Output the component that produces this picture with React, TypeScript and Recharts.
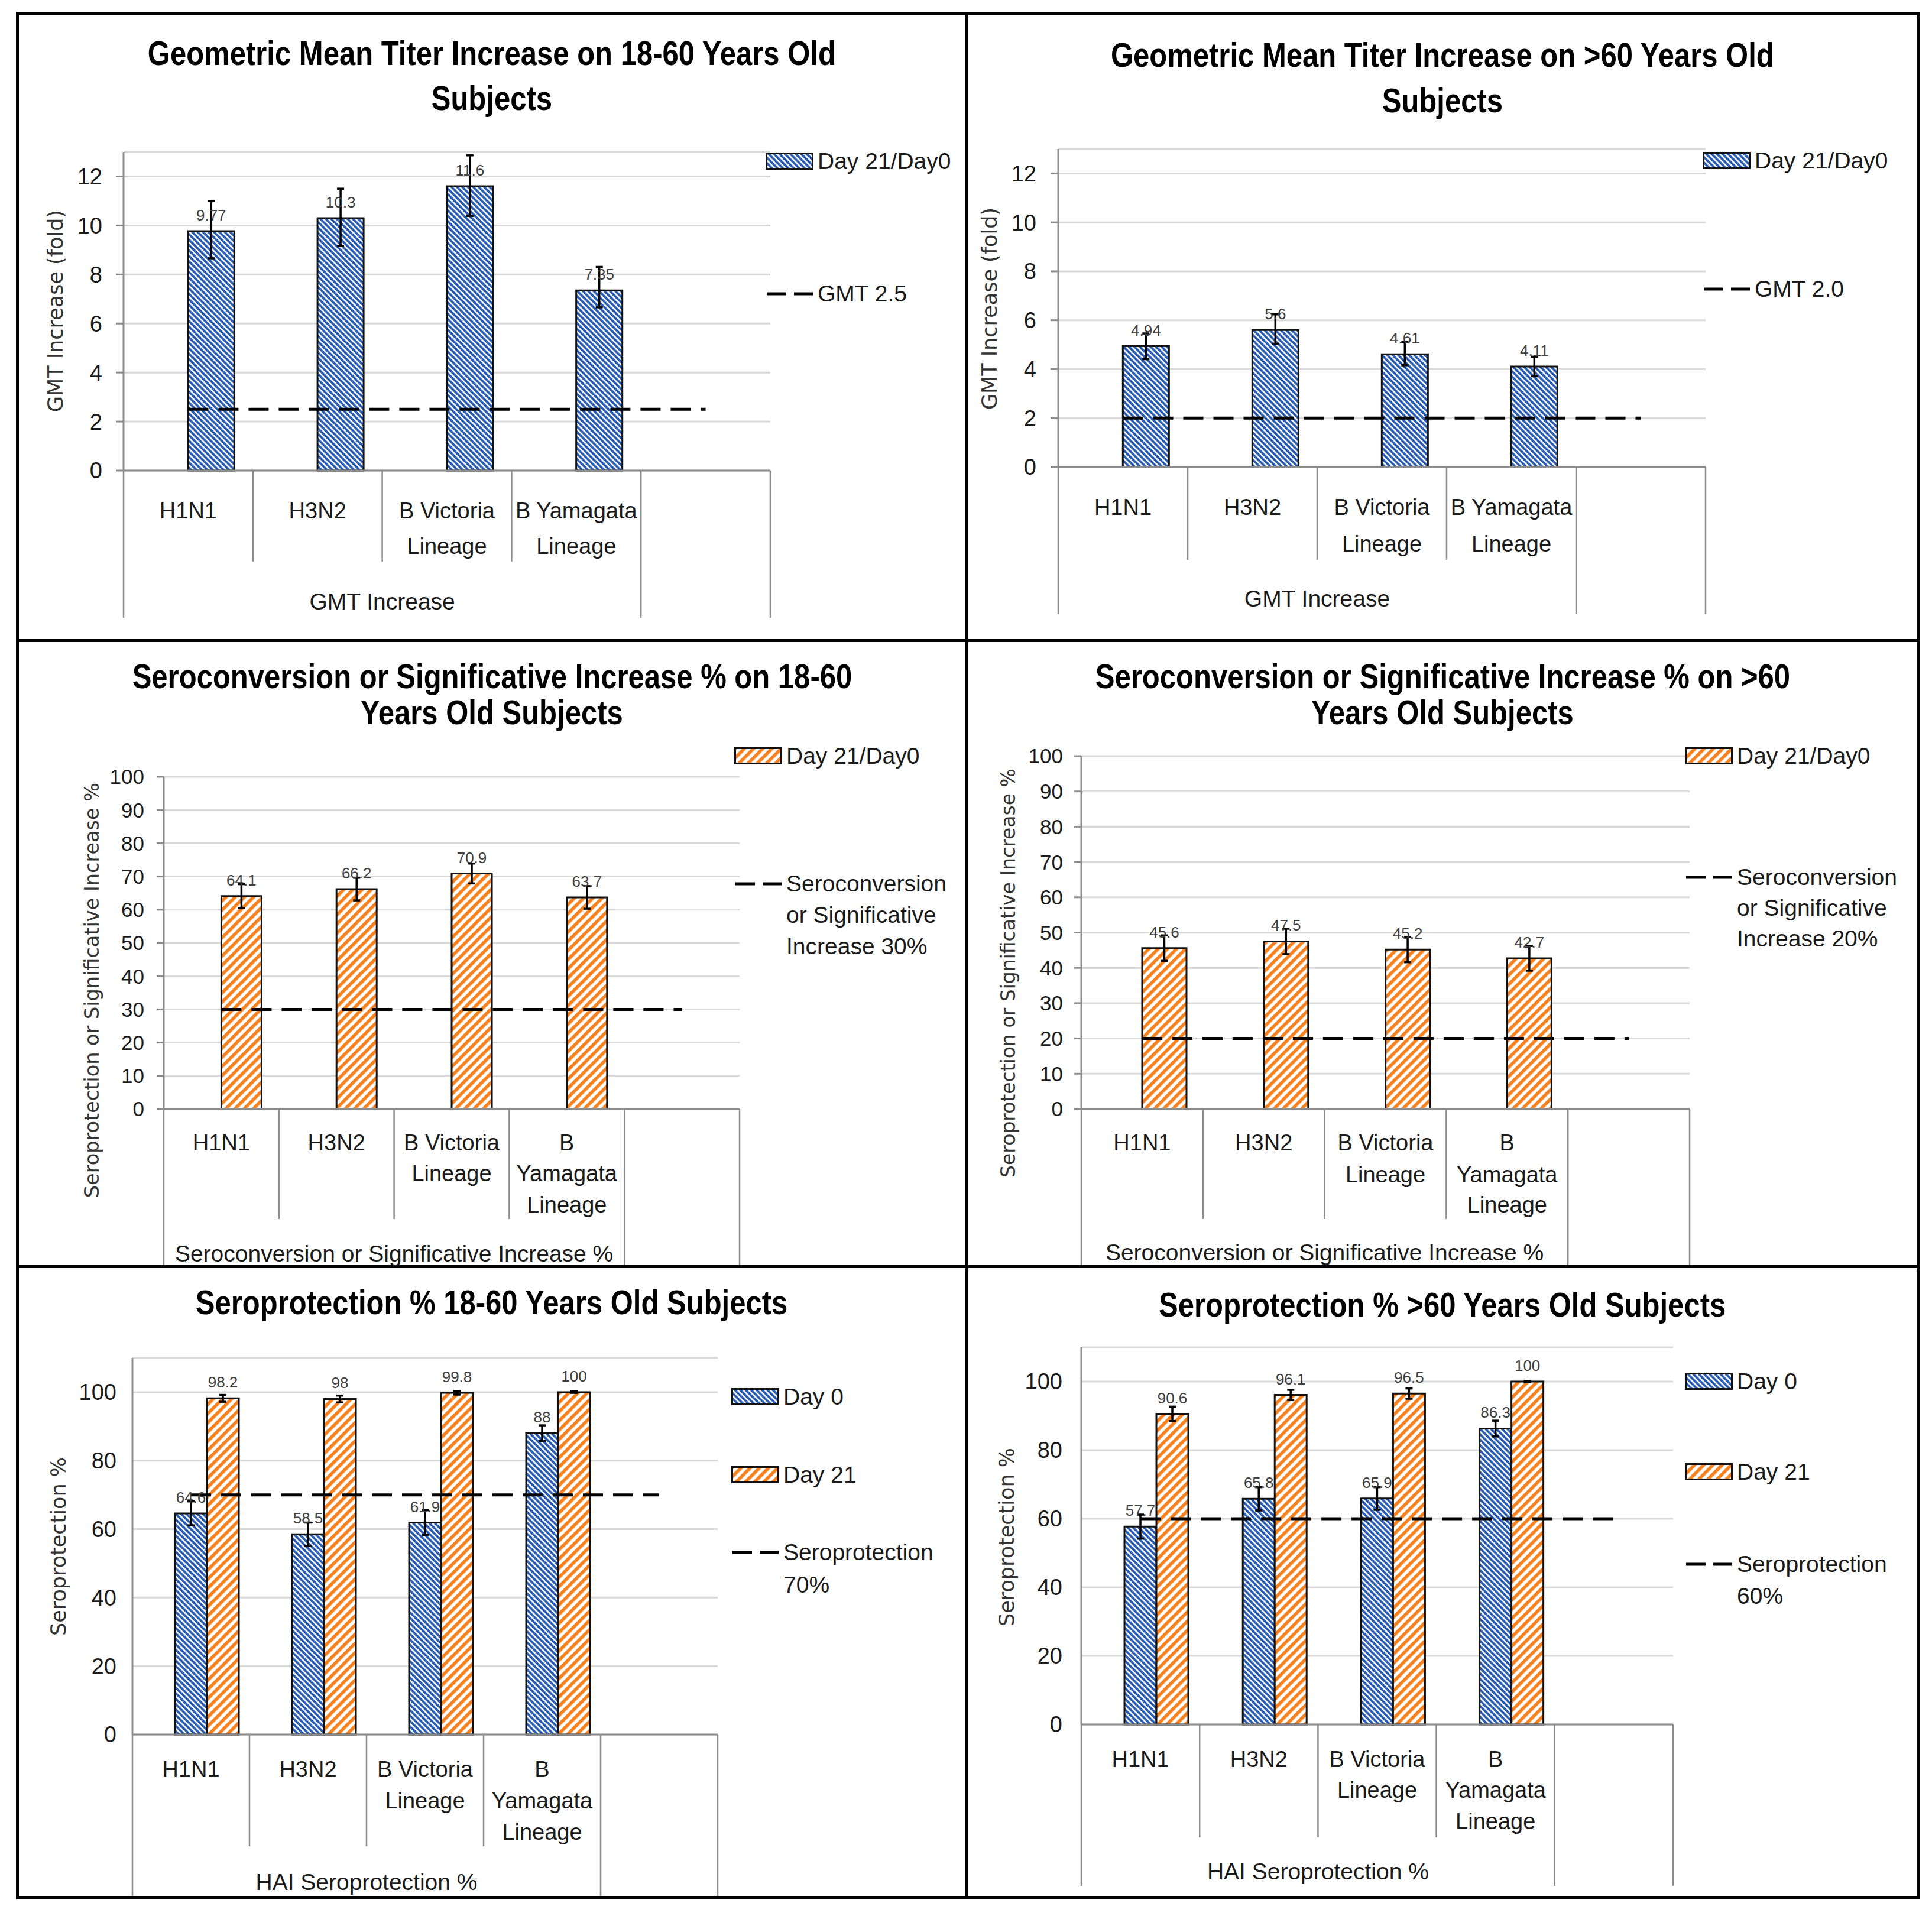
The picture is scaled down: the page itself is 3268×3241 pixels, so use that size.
import React from 'react';
import { ComposedChart, Bar, Line, XAxis, YAxis, CartesianGrid, ErrorBar, LabelList, Legend } from 'recharts';

const FONT = "'Liberation Sans', Arial, sans-serif";
const TITLE_FONT = "'Liberation Sans', Arial, sans-serif";
const AXIS_TITLE_FONT = "'DejaVu Sans', Verdana, sans-serif";

const BLUE = '#2a5cb0';
const ORANGE = '#f5821f';
const GRID = '#d9d9d9';
const AXIS = '#8c8c8c';
const TEXT = '#1a1a1a';

// ---------------- data ----------------
const categories = ['H1N1', 'H3N2', 'B Victoria Lineage', 'B Yamagata Lineage', ''];
const twoLineCategoryLabels = [['H1N1'], ['H3N2'], ['B Victoria', 'Lineage'], ['B Yamagata', 'Lineage'], []];
const threeLineCategoryLabels = [['H1N1'], ['H3N2'], ['B Victoria', 'Lineage'], ['B', 'Yamagata', 'Lineage'], []];

const gmtTicks = [0, 2, 4, 6, 8, 10, 12];
const seroconvTicks = [0, 10, 20, 30, 40, 50, 60, 70, 80, 90, 100];
const seroprotTicks = [0, 20, 40, 60, 80, 100];

const gmtYoungValues = [9.77, 10.3, 11.6, 7.35];
const gmtYoungErrLow = [1.11, 1.14, 1.21, 0.69];
const gmtYoungErrHigh = [1.23, 1.2, 1.26, 0.96];
const gmtYoungThreshold = [2.5, 2.5, 2.5, 2.5, 2.5];

const gmtOldValues = [4.94, 5.6, 4.61, 4.11];
const gmtOldErrLow = [0.53, 0.56, 0.45, 0.4];
const gmtOldErrHigh = [0.52, 0.64, 0.5, 0.4];
const gmtOldThreshold = [2, 2, 2, 2, 2];

const seroconvYoungValues = [64.1, 66.2, 70.9, 63.7];
const seroconvYoungErr = [3.6, 3.4, 3.0, 3.4];
const seroconvYoungThreshold = [30, 30, 30, 30, 30];

const seroconvOldValues = [45.6, 47.5, 45.2, 42.7];
const seroconvOldErr = [3.6, 3.6, 3.6, 3.5];
const seroconvOldThreshold = [20, 20, 20, 20, 20];

const seroprotYoungDay0 = [64.6, 58.5, 61.9, 88];
const seroprotYoungDay0Err = [3.5, 3.4, 3.6, 2.3];
const seroprotYoungDay21 = [98.2, 98, 99.8, 100];
const seroprotYoungDay21Err = [1.0, 1.0, 0.5, 0.2];
const seroprotYoungThreshold = [70, 70, 70, 70, 70];

const seroprotOldDay0 = [57.7, 65.8, 65.9, 86.3];
const seroprotOldDay0Err = [3.5, 3.4, 3.3, 2.3];
const seroprotOldDay21 = [90.6, 96.1, 96.5, 100];
const seroprotOldDay21Err = [2.1, 1.5, 1.5, 0.2];
const seroprotOldThreshold = [60, 60, 60, 60, 60];

// ---------------- panel configs (layout) ----------------
type Series = { name: string; kind: 'blue' | 'orange'; values: number[]; errLow: number[]; errHigh: number[] };
type LegendItem = { kind: 'blue' | 'orange' | 'dash'; lines: string[]; y: number[] };

const panels: any[] = [
  {
    id: 'p1', box: { l: 29, t: 22, r: 1635, b: 1083 },
    titleLines: ['Geometric Mean Titer Increase on 18-60 Years Old', 'Subjects'], titleY: [90, 166],
    plotLeft: 209, plotRight: 1303, plotTop: 257, plotBottom: 796, max: 13, ticks: gmtTicks,
    tickLine: true, tickSize: 13, tickMargin: 23, tickFont: 38,
    yLabel: 'GMT Increase (fold)', yLabelX: 94, yLabelY: 526, yLabelSize: 35,
    legend: [
      { kind: 'blue', lines: ['Day 21/Day0'], y: [273] },
      { kind: 'dash', lines: ['GMT 2.5'], y: [497] },
    ], swatchX: 1295,
    catLines: twoLineCategoryLabels, catY: [864, 924], group: 'GMT Increase', groupY: 1017,
    innerBottom: 950, outerBottom: 1045, gap: '14.3%',
    series: [{ name: 'Day 21/Day0', kind: 'blue', values: gmtYoungValues, errLow: gmtYoungErrLow, errHigh: gmtYoungErrHigh }],
    threshold: gmtYoungThreshold,
  },
  {
    id: 'p2', box: { l: 1635, t: 22, r: 3245, b: 1083 },
    titleLines: ['Geometric Mean Titer Increase on >60 Years Old', 'Subjects'], titleY: [93, 170],
    plotLeft: 1790, plotRight: 2885, plotTop: 252, plotBottom: 790, max: 13, ticks: gmtTicks,
    tickLine: true, tickSize: 13, tickMargin: 24, tickFont: 38,
    yLabel: 'GMT Increase (fold)', yLabelX: 1674, yLabelY: 522, yLabelSize: 35,
    legend: [
      { kind: 'blue', lines: ['Day 21/Day0'], y: [272] },
      { kind: 'dash', lines: ['GMT 2.0'], y: [489] },
    ], swatchX: 2880,
    catLines: twoLineCategoryLabels, catY: [858, 920], group: 'GMT Increase', groupY: 1012,
    innerBottom: 947, outerBottom: 1039, gap: '14.3%',
    series: [{ name: 'Day 21/Day0', kind: 'blue', values: gmtOldValues, errLow: gmtOldErrLow, errHigh: gmtOldErrHigh }],
    threshold: gmtOldThreshold,
  },
  {
    id: 'p3', box: { l: 29, t: 1083, r: 1635, b: 2142 },
    titleLines: ['Seroconversion or Significative Increase % on 18-60', 'Years Old Subjects'], titleY: [1144, 1205],
    plotLeft: 277, plotRight: 1251, plotTop: 1314, plotBottom: 1876, max: 100, ticks: seroconvTicks,
    tickLine: true, tickSize: 12, tickMargin: 21, tickFont: 35,
    yLabel: 'Seroprotection or Significative Increase %', yLabelX: 155, yLabelY: 1675, yLabelSize: 33.5,
    legend: [
      { kind: 'orange', lines: ['Day 21/Day0'], y: [1279] },
      { kind: 'dash', lines: ['Seroconversion', 'or Significative', 'Increase 30%'], y: [1495, 1548, 1601] },
    ], swatchX: 1242,
    catLines: threeLineCategoryLabels, catY: [1933, 1985, 2038], group: 'Seroconversion or Significative Increase %', groupY: 2120,
    innerBottom: 2062, outerBottom: 2140, gap: '15.1%',
    series: [{ name: 'Day 21/Day0', kind: 'orange', values: seroconvYoungValues, errLow: seroconvYoungErr, errHigh: seroconvYoungErr }],
    threshold: seroconvYoungThreshold,
  },
  {
    id: 'p4', box: { l: 1635, t: 1083, r: 3245, b: 2142 },
    titleLines: ['Seroconversion or Significative Increase % on >60', 'Years Old Subjects'], titleY: [1144, 1205],
    plotLeft: 1829, plotRight: 2858, plotTop: 1279, plotBottom: 1876, max: 100, ticks: seroconvTicks,
    tickLine: true, tickSize: 12, tickMargin: 19, tickFont: 35,
    yLabel: 'Seroprotection or Significative Increase %', yLabelX: 1705, yLabelY: 1646, yLabelSize: 33,
    legend: [
      { kind: 'orange', lines: ['Day 21/Day0'], y: [1279] },
      { kind: 'dash', lines: ['Seroconversion', 'or Significative', 'Increase 20%'], y: [1484, 1536, 1588] },
    ], swatchX: 2850,
    catLines: threeLineCategoryLabels, catY: [1933, 1987, 2038], group: 'Seroconversion or Significative Increase %', groupY: 2118,
    innerBottom: 2062, outerBottom: 2140, gap: '13.6%',
    series: [{ name: 'Day 21/Day0', kind: 'orange', values: seroconvOldValues, errLow: seroconvOldErr, errHigh: seroconvOldErr }],
    threshold: seroconvOldThreshold,
  },
  {
    id: 'p5', box: { l: 29, t: 2142, r: 1635, b: 3210 },
    titleLines: ['Seroprotection % 18-60 Years Old Subjects'], titleY: [2203],
    plotLeft: 224, plotRight: 1214, plotTop: 2297, plotBottom: 2934, max: 110, ticks: seroprotTicks,
    tickLine: false, tickSize: 0, tickMargin: 27, tickFont: 38,
    yLabel: 'Seroprotection %', yLabelX: 99, yLabelY: 2616, yLabelSize: 35,
    legend: [
      { kind: 'blue', lines: ['Day 0'], y: [2363] },
      { kind: 'orange', lines: ['Day 21'], y: [2495] },
      { kind: 'dash', lines: ['Seroprotection', '70%'], y: [2626, 2681] },
    ], swatchX: 1237,
    catLines: threeLineCategoryLabels, catY: [2993, 3046, 3099], group: 'HAI Seroprotection %', groupY: 3183,
    innerBottom: 3123, outerBottom: 3207, gap: '9.1%',
    series: [
      { name: 'Day 0', kind: 'blue', values: seroprotYoungDay0, errLow: seroprotYoungDay0Err, errHigh: seroprotYoungDay0Err },
      { name: 'Day 21', kind: 'orange', values: seroprotYoungDay21, errLow: seroprotYoungDay21Err, errHigh: seroprotYoungDay21Err },
    ],
    threshold: seroprotYoungThreshold,
  },
  {
    id: 'p6', box: { l: 1635, t: 2142, r: 3245, b: 3210 },
    titleLines: ['Seroprotection % >60 Years Old Subjects'], titleY: [2207],
    plotLeft: 1829, plotRight: 2830, plotTop: 2279, plotBottom: 2917, max: 110, ticks: seroprotTicks,
    tickLine: false, tickSize: 0, tickMargin: 32, tickFont: 38,
    yLabel: 'Seroprotection %', yLabelX: 1703, yLabelY: 2600, yLabelSize: 35,
    legend: [
      { kind: 'blue', lines: ['Day 0'], y: [2337] },
      { kind: 'orange', lines: ['Day 21'], y: [2490] },
      { kind: 'dash', lines: ['Seroprotection', '60%'], y: [2646, 2700] },
    ], swatchX: 2850,
    catLines: threeLineCategoryLabels, catY: [2976, 3028, 3081], group: 'HAI Seroprotection %', groupY: 3165,
    innerBottom: 3108, outerBottom: 3190, gap: '9.5%',
    series: [
      { name: 'Day 0', kind: 'blue', values: seroprotOldDay0, errLow: seroprotOldDay0Err, errHigh: seroprotOldDay0Err },
      { name: 'Day 21', kind: 'orange', values: seroprotOldDay21, errLow: seroprotOldDay21Err, errHigh: seroprotOldDay21Err },
    ],
    threshold: seroprotOldThreshold,
  },
];

// ---------------- helpers ----------------
function PatternDefs({ id }: { id: string }) {
  return (
    <defs>
      <pattern id={`${id}-blue`} patternUnits="userSpaceOnUse" width={6.5} height={6.5} patternTransform="rotate(-45)">
        <rect x={0} y={0} width={6.5} height={6.5} fill="#ffffff" />
        <rect x={0} y={0} width={3.9} height={6.5} fill={BLUE} />
      </pattern>
      <pattern id={`${id}-orange`} patternUnits="userSpaceOnUse" width={11} height={11} patternTransform="rotate(45)">
        <rect x={0} y={0} width={11} height={11} fill="#ffffff" />
        <rect x={0} y={0} width={5.6} height={11} fill={ORANGE} />
      </pattern>
    </defs>
  );
}

function Swatch({ kind, id }: { kind: string; id: string }) {
  if (kind === 'dash') {
    return (
      <svg width={82} height={12} style={{ display: 'block' }}>
        <line x1={2} y1={6} x2={80} y2={6} stroke="#000" strokeWidth={5} strokeDasharray="33 13" />
      </svg>
    );
  }
  return (
    <svg width={82} height={30} style={{ display: 'block' }}>
      <PatternDefs id={id} />
      <rect x={1.5} y={1.5} width={78} height={26} fill={`url(#${id}-${kind})`} stroke="#111" strokeWidth={3} />
    </svg>
  );
}

function LegendBox({ cfg, chartTop, legendW }: any) {
  const lineH = 52;
  const left = cfg.swatchX - cfg.plotRight;
  return (
    <div style={{ position: 'relative', width: legendW, height: 4 }}>
      {cfg.legend.map((item: LegendItem, k: number) => (
        <React.Fragment key={k}>
          <div style={{ position: 'absolute', left, top: item.y[0] - chartTop - (item.kind === 'dash' ? 6 : 15) }}>
            <Swatch kind={item.kind} id={`${cfg.id}-lg${k}`} />
          </div>
          {item.lines.map((t, j) => (
            <div
              key={j}
              style={{
                position: 'absolute', left: left + 88, top: item.y[j] - chartTop - lineH / 2,
                height: lineH, lineHeight: `${lineH}px`, fontSize: 39, fontFamily: FONT, color: TEXT, whiteSpace: 'nowrap',
              }}
            >
              {t}
            </div>
          ))}
        </React.Fragment>
      ))}
    </div>
  );
}

function CatTick(props: any) {
  const { x, y, index, cfg } = props;
  const i = typeof index === 'number' ? index : props.payload?.index ?? 0;
  const band = (cfg.plotRight - cfg.plotLeft) / categories.length;
  const left = x - band / 2;
  const innerH = cfg.innerBottom - cfg.plotBottom;
  const outerH = cfg.outerBottom - cfg.plotBottom;
  const isOuter = i === 0 || i === categories.length - 1;
  const lines: string[] = cfg.catLines[i] || [];
  return (
    <g>
      <line x1={left} x2={left} y1={y} y2={y + (isOuter ? outerH : innerH)} stroke={AXIS} strokeWidth={2.5} />
      {i === categories.length - 1 && (
        <line x1={x + band / 2} x2={x + band / 2} y1={y} y2={y + outerH} stroke={AXIS} strokeWidth={2.5} />
      )}
      {lines.map((t, j) => (
        <text key={j} x={x} y={y + cfg.catY[j] - cfg.plotBottom} textAnchor="middle" dominantBaseline="central"
          fontSize={38} fontFamily={FONT} fill={TEXT}>{t}</text>
      ))}
      {i === 0 && (
        <text x={left + 2 * band} y={y + cfg.groupY - cfg.plotBottom} textAnchor="middle" dominantBaseline="central"
          fontSize={39} fontFamily={FONT} fill={TEXT}>{cfg.group}</text>
      )}
    </g>
  );
}

function YTitle({ cfg, chartLeft, chartTop }: any) {
  const cx = cfg.yLabelX - chartLeft;
  const cy = cfg.yLabelY - chartTop;
  return (
    <text x={cx} y={cy} transform={`rotate(-90, ${cx}, ${cy})`} textAnchor="middle" dominantBaseline="central"
      fontSize={cfg.yLabelSize} fontFamily={AXIS_TITLE_FONT} fill="#333">{cfg.yLabel}</text>
  );
}

function Panel({ cfg }: any) {
  const topPad = 60;
  const chartLeft = cfg.box.l + 6;
  const chartRight = cfg.box.r - 6;
  const chartTop = cfg.plotTop - topPad;
  const xAxisH = cfg.outerBottom - cfg.plotBottom;
  const height = topPad + (cfg.plotBottom - cfg.plotTop) + xAxisH + 2;
  const width = chartRight - chartLeft;
  const legendW = chartRight - cfg.plotRight;
  const yAxisW = cfg.plotLeft - chartLeft;

  const rows = categories.map((cat, i) => {
    const row: any = { cat, gap: null, thr: cfg.threshold[i] };
    cfg.series.forEach((s: Series, k: number) => {
      const v = s.values[i];
      row[`s${k}`] = v === undefined ? null : v;
      row[`e${k}`] = v === undefined ? null : [s.errLow[i], s.errHigh[i]];
    });
    return row;
  });

  return (
    <>
      {cfg.titleLines.map((t: string, j: number) => (
        <div key={j} style={{
          position: 'absolute', left: cfg.box.l, width: cfg.box.r - cfg.box.l, top: cfg.titleY[j] - 40, height: 80,
          lineHeight: '80px', textAlign: 'center', fontFamily: TITLE_FONT, fontWeight: 700, fontSize: 58,
          color: '#000', whiteSpace: 'nowrap',
        }}>
          <span style={{ display: 'inline-block', transform: 'scaleX(0.845)', transformOrigin: 'center' }}>{t}</span>
        </div>
      ))}
      <div style={{ position: 'absolute', left: chartLeft, top: chartTop }}>
        <ComposedChart width={width} height={height} data={rows} margin={{ top: topPad, right: 0, left: 0, bottom: 2 }}
          barGap={0} barCategoryGap={cfg.gap}>
          <PatternDefs id={cfg.id} />
          <CartesianGrid vertical={false} stroke={GRID} strokeWidth={3} />
          <XAxis dataKey="cat" type="category" interval={0} tickLine={false} tickSize={0} tickMargin={0} height={xAxisH}
            axisLine={{ stroke: AXIS, strokeWidth: 3 }} tick={<CatTick cfg={cfg} />} />
          <YAxis type="number" domain={[0, cfg.max]} ticks={cfg.ticks} interval={0} width={yAxisW}
            tickLine={cfg.tickLine ? { stroke: AXIS, strokeWidth: 3 } : false} tickSize={cfg.tickSize} tickMargin={cfg.tickMargin}
            axisLine={{ stroke: AXIS, strokeWidth: 3 }} tick={{ fill: TEXT, fontSize: cfg.tickFont, fontFamily: FONT }}
            label={<YTitle cfg={cfg} chartLeft={chartLeft} chartTop={chartTop} />} />
          <Legend layout="vertical" align="right" verticalAlign="top" width={legendW}
            wrapperStyle={{ top: 0, right: 0, left: 'auto', width: legendW, height: 4 }}
            content={() => <LegendBox cfg={cfg} chartTop={chartTop} legendW={legendW} />} />
          <Bar dataKey="gap" fill="none" stroke="none" legendType="none" isAnimationActive={false} />
          {cfg.series.map((s: Series, k: number) => (
            <Bar key={k} dataKey={`s${k}`} name={s.name} fill={`url(#${cfg.id}-${s.kind})`} stroke="#111" strokeWidth={3}
              isAnimationActive={false}>
              <ErrorBar dataKey={`e${k}`} direction="y" width={6} stroke="#000" strokeWidth={3.5} />
              <LabelList dataKey={`s${k}`} position="top" offset={18} fill="#404040" fontSize={26} fontFamily={FONT} />
            </Bar>
          ))}
          <Line dataKey="thr" type="linear" stroke="#000" strokeWidth={5} strokeDasharray="34 17" dot={false}
            activeDot={false} legendType="none" isAnimationActive={false} />
        </ComposedChart>
      </div>
    </>
  );
}

function FrameLine({ x, y, w, h }: any) {
  return <div style={{ position: 'absolute', left: x, top: y, width: w, height: h, background: '#000' }} />;
}

export default function App() {
  const lw = 5;
  return (
    <div style={{ position: 'absolute', left: 0, top: 0, width: 3268, height: 3241, background: '#fff', overflow: 'hidden' }}>
      <FrameLine x={29 - lw / 2} y={22 - lw / 2} w={3245 - 29 + lw} h={lw} />
      <FrameLine x={29 - lw / 2} y={3210 - lw / 2} w={3245 - 29 + lw} h={lw} />
      <FrameLine x={29 - lw / 2} y={22 - lw / 2} w={lw} h={3210 - 22 + lw} />
      <FrameLine x={3245 - lw / 2} y={22 - lw / 2} w={lw} h={3210 - 22 + lw} />
      <FrameLine x={1635 - lw / 2} y={22 - lw / 2} w={lw} h={3210 - 22 + lw} />
      <FrameLine x={29 - lw / 2} y={1083 - lw / 2} w={3245 - 29 + lw} h={lw} />
      <FrameLine x={29 - lw / 2} y={2142 - lw / 2} w={3245 - 29 + lw} h={lw} />
      {panels.map((p) => (
        <Panel key={p.id} cfg={p} />
      ))}
    </div>
  );
}
